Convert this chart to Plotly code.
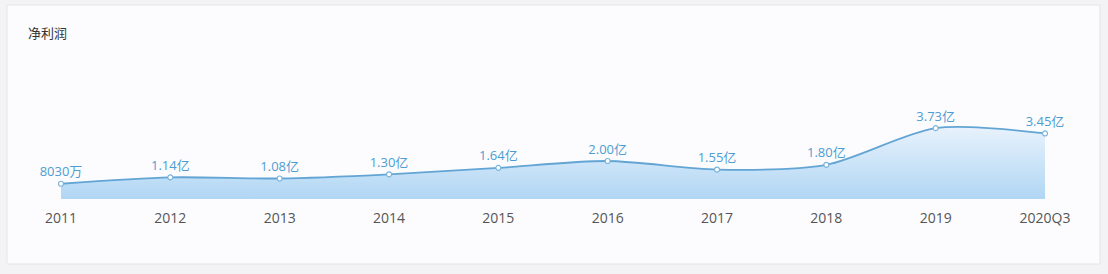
import plotly.graph_objects as go

categories = ["2011", "2012", "2013", "2014", "2015", "2016", "2017", "2018", "2019", "2020Q3"]
values = [0.803, 1.14, 1.08, 1.30, 1.64, 2.00, 1.55, 1.80, 3.73, 3.45]
labels = ["8030万", "1.14亿", "1.08亿", "1.30亿", "1.64亿", "2.00亿", "1.55亿", "1.80亿", "3.73亿", "3.45亿"]
title_text = "净利润"

W, H = 1108, 274
L, R = 61, 1045          # plot area pixel bounds (x)
TOP, BOT = 104, 199      # plot area pixel bounds (y)
YMAX = 5.0

def px(x):
    return (x - L) / (R - L)

def py(y):
    return (BOT - y) / (BOT - TOP)

fig = go.Figure()
fig.add_trace(go.Scatter(
    x=list(range(len(categories))), y=values,
    mode="lines+markers+text",
    line=dict(color="#62a5d4", width=1.8, shape="spline", smoothing=0.8),
    marker=dict(size=5, color="#ffffff", line=dict(color="#7ab4dc", width=1.2)),
    fill="tozeroy",
    fillgradient=dict(type="vertical", start=0, stop=3.8,
                      colorscale=[[0, "#b0d6f4"], [1, "#e8f2fc"]]),
    text=labels, textposition="top center",
    textfont=dict(family="Open Sans, Noto Sans CJK SC", size=13, color="#4d9cd2"),
    cliponaxis=False, hoverinfo="skip", showlegend=False,
))

fig.update_layout(
    width=W, height=H,
    margin=dict(l=L, r=W - R, t=TOP, b=H - BOT, pad=0),
    paper_bgcolor="#f3f3f5",
    plot_bgcolor="rgba(0,0,0,0)",
    xaxis=dict(
        tickmode="array", tickvals=list(range(len(categories))), ticktext=categories,
        range=[0, len(categories) - 1], showgrid=False, zeroline=False, showline=False,
        ticks="", ticklabelstandoff=9,
        tickfont=dict(family="Open Sans, Noto Sans CJK SC", size=14, color="#555555"),
    ),
    yaxis=dict(range=[0, YMAX], visible=False, showgrid=False, zeroline=False),
    shapes=[dict(
        type="rect", xref="paper", yref="paper", layer="below",
        x0=px(7), x1=px(1100), y0=py(264), y1=py(5),
        fillcolor="#fcfcfe", line=dict(color="#e4e4e8", width=1),
    )],
    annotations=[dict(
        text=title_text, xref="paper", yref="paper",
        x=px(26), y=py(33), xanchor="left", yanchor="middle", showarrow=False,
        font=dict(family="Noto Sans CJK SC", size=13, color="#333333"),
    )],
)

fig.write_html("out.html")
